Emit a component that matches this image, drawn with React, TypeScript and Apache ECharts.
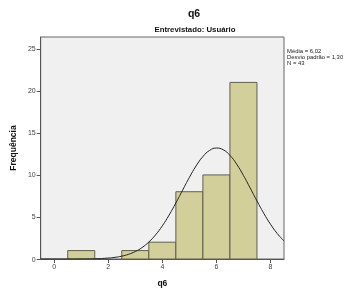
import React, { useEffect, useRef } from "react";
import * as echarts from "echarts";

const binCenters = [1, 3, 4, 5, 6, 7];
const binCounts = [1, 1, 2, 8, 10, 21];
const curveX = [-0.5, 0, 0.5, 1, 1.5, 2, 2.25, 2.5, 2.75, 3, 3.25, 3.5, 3.75, 4, 4.25, 4.5, 4.75, 5, 5.25, 5.5, 5.75, 6, 6.25, 6.5, 6.75, 7, 7.25, 7.5, 7.75, 8, 8.25, 8.5];
const curveY = [0, 0.0003, 0.0016, 0.0076, 0.031, 0.111, 0.197, 0.338, 0.558, 0.889, 1.363, 2.018, 2.874, 3.947, 5.223, 6.663, 8.189, 9.7, 11.073, 12.181, 12.915, 13.194, 12.992, 12.327, 11.271, 9.933, 8.435, 6.903, 5.443, 4.137, 3.03, 2.139];
const xTicks = [0, 2, 4, 6, 8];
const yTicks = [0, 5, 10, 15, 20, 25];
const statsLines = ["Média = 6,02", "Desvio padrão = 1,30", "N = 43"];

export default function App() {
  const ref = useRef<HTMLDivElement>(null);
  useEffect(() => {
    const chart = echarts.init(ref.current!, null, { renderer: "svg" });
    const font = "Arial, 'Liberation Sans', sans-serif";
    chart.setOption({
      animation: false,
      textStyle: { fontFamily: font },
      grid: {
        left: 38,
        top: 37,
        width: 246,
        height: 227,
        show: true,
        backgroundColor: "#F0F0F0",
        borderColor: "#666",
        borderWidth: 1,
      },
      title: [
        { text: "q6", left: 189, top: 2, textAlign: "center", textStyle: { fontSize: 10.5, fontWeight: "bold", color: "#111", fontFamily: font } },
        { text: "Entrevistado: Usuário", left: 190, top: 20, textAlign: "center", textStyle: { fontSize: 7.8, fontWeight: "bold", color: "#111", fontFamily: font } },
      ],
      graphic: statsLines.map((t, i) => ({
        type: "text",
        left: 287,
        top: 47.5 + i * 6.2,
        style: { text: t, fontSize: 5.9, fill: "#222", fontFamily: font },
      })),
      xAxis: {
        type: "value",
        min: -0.5,
        max: 8.5,
        name: "q6",
        nameLocation: "middle",
        nameGap: 19,
        nameTextStyle: { fontSize: 8.5, fontWeight: "bold", color: "#111" },
        splitLine: { show: false },
        axisLine: { show: true, onZero: false, lineStyle: { color: "#555" } },
        axisTick: { show: true, length: 4, customValues: xTicks, lineStyle: { color: "#555" } },
        axisLabel: { customValues: xTicks, fontSize: 7, color: "#444", margin: 4 },
      },
      yAxis: {
        type: "value",
        min: 0,
        max: 26.4,
        name: "Frequência",
        nameLocation: "middle",
        nameGap: 17,
        nameTextStyle: { fontSize: 8.5, fontWeight: "bold", color: "#111" },
        splitLine: { show: false },
        axisLine: { show: true, onZero: false, lineStyle: { color: "#555" } },
        axisTick: { show: true, length: 4, customValues: yTicks, lineStyle: { color: "#555" } },
        axisLabel: { customValues: yTicks, fontSize: 7, color: "#444", margin: 5 },
      },
      series: [
        {
          type: "custom",
          data: binCenters.map((c, i) => [c, binCounts[i]]),
          renderItem: (params: any, api: any) => {
            const c = api.value(0);
            const v = api.value(1);
            const p0 = api.coord([c - 0.5, 0]);
            const p1 = api.coord([c + 0.5, v]);
            return {
              type: "rect",
              shape: { x: p0[0], y: p1[1], width: p1[0] - p0[0], height: p0[1] - p1[1] },
              style: { fill: "#D3CF9A", stroke: "#5f5f50", lineWidth: 1 },
            };
          },
          z: 2,
        },
        {
          type: "line",
          data: curveX.map((x, i) => [x, curveY[i]]),
          smooth: true,
          showSymbol: false,
          lineStyle: { color: "#222", width: 1 },
          z: 3,
        },
      ],
    });
    return () => chart.dispose();
  }, []);
  return <div ref={ref} style={{ position: "fixed", left: 0, top: 0, width: 343, height: 292 }} />;
}
